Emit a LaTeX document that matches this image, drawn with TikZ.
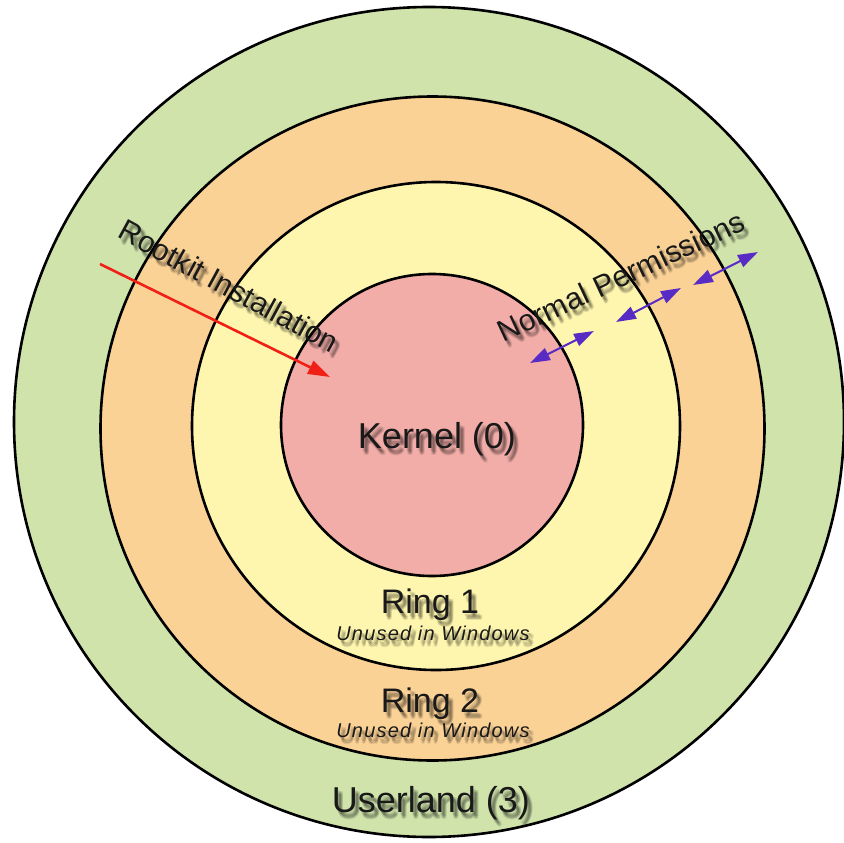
\documentclass[tikz,border=0pt]{standalone}
\usepackage{fontspec}
\setmainfont{Liberation Sans}
\usetikzlibrary{arrows.meta}

\definecolor{userlandfill}{RGB}{207,227,171}
\definecolor{ringtwofill}{RGB}{251,210,150}
\definecolor{ringonefill}{RGB}{254,246,174}
\definecolor{kernelfill}{RGB}{242,173,168}
\definecolor{labeltext}{RGB}{25,25,25}
\definecolor{rootkitred}{RGB}{240,32,22}
\definecolor{permpurple}{RGB}{88,44,196}

% label with a soft drop shadow: #1 name, #2 position, #3 node options, #4 text
\newcommand\softlabel[4]{%
  \foreach \dx/\dy in {2/3,3/4,4/5,5/6,3/6,5/4,4/7}{%
    \node[xshift=\dx pt, yshift=-\dy pt, #3, text=black, opacity=0.09] at (#2) {#4};
  }%
  \node[#3] (#1) at (#2) {#4};
}

\begin{document}
\begin{tikzpicture}[x=1pt, y=-1pt,
    ringline/.style={draw=black, line width=2.6pt},
    lbl/.style={inner sep=0pt, anchor=base, text=labeltext},
    biglbl/.style={lbl, font=\fontsize{36}{40}\selectfont},
    ringlbl/.style={lbl, font=\fontsize{34}{38}\selectfont},
    notelbl/.style={lbl, font=\fontsize{20}{22}\selectfont\itshape\addfontfeature{LetterSpace=6}},
    slantlbl/.style={inner sep=0pt, anchor=center, text=labeltext, font=\fontsize{30}{34}\selectfont},
    rootkitarrow/.style={draw=rootkitred, line width=2.6pt, -{Triangle[length=22pt, width=14pt]}},
    permarrow/.style={draw=permpurple, line width=2pt, {Triangle[length=20pt, width=13pt]}-{Triangle[length=20pt, width=13pt]}}
  ]
  \useasboundingbox (0,0) rectangle (843,843);
  \fill[white] (0,0) rectangle (843,843);

  % protection rings, outermost first
  \draw[ringline, fill=userlandfill] (429,422) circle[radius=415pt];
  \draw[ringline, fill=ringtwofill]  (432.5,428.5) circle[radius=332pt];
  \draw[ringline, fill=ringonefill]  (436,426) circle[radius=244pt];
  \draw[ringline, fill=kernelfill]   (432,425) circle[radius=151pt];

  % ring names
  \softlabel{kernel}{437,448}{biglbl}{Kernel (0)}
  \softlabel{ringone}{430,613}{ringlbl}{Ring 1}
  \softlabel{ringonenote}{433,640}{notelbl}{Unused in Windows}
  \softlabel{ringtwo}{430,712}{ringlbl}{Ring 2}
  \softlabel{ringtwonote}{433,737}{notelbl}{Unused in Windows}
  \softlabel{userland}{431,812}{biglbl}{Userland (3)}

  % slanted captions
  \softlabel{rootkit}{229,286}{slantlbl, rotate=-28.5}{Rootkit Installation}
  \softlabel{normal}{621,276}{slantlbl, rotate=25}{Normal Permissions}

  % rootkit path straight into the kernel
  \coordinate (rkfrom) at (100,264);
  \coordinate (rkto) at (330,377);
  \draw[rootkitarrow] (rkfrom) -- (rkto);

  % normal permission crossings between rings
  \coordinate (pa1) at (530,363);
  \coordinate (pb1) at (594,331);
  \coordinate (pa2) at (616,322);
  \coordinate (pb2) at (681,288);
  \coordinate (pa3) at (693,285);
  \coordinate (pb3) at (758,252);
  \draw[permarrow] (pa1) -- (pb1);
  \draw[permarrow] (pa2) -- (pb2);
  \draw[permarrow] (pa3) -- (pb3);
\end{tikzpicture}
\end{document}
